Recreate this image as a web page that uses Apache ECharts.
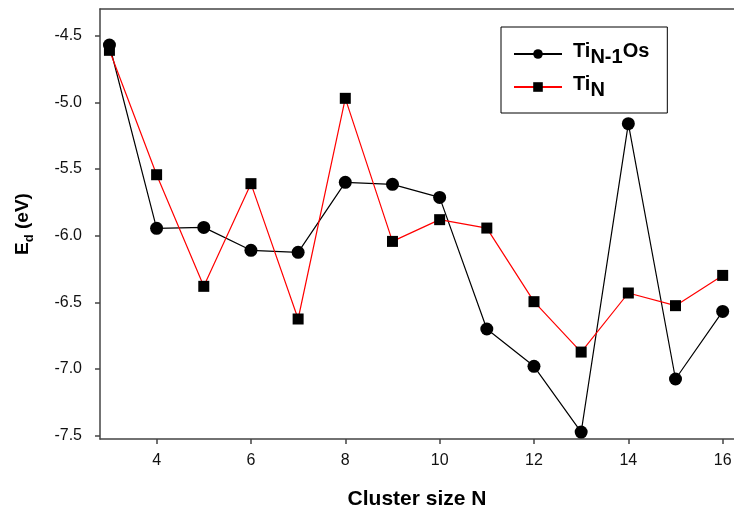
<!doctype html>
<html lang="en">
<head>
  <meta charset="utf-8">
  <title>Ed vs cluster size</title>
  <script src="https://cdn.jsdelivr.net/npm/echarts@6/dist/echarts.min.js"></script>
  <style>
    html, body { margin: 0; padding: 0; background: #fff; }
    #chart { width: 734px; height: 507px; }
  </style>
</head>
<body>
  <div id="chart"></div>
  <script type="text/javascript">
    // cluster size N
    const sizes = [3, 4, 5, 6, 7, 8, 9, 10, 11, 12, 13, 14, 15, 16];
    // Ti(N-1)Os
    const tiOs = [-4.57, -5.945, -5.938, -6.11, -6.125, -5.60, -5.615, -5.713, -6.70, -6.98, -7.473, -5.16, -7.075, -6.568];
    // Ti(N)
    const tiN = [-4.61, -5.543, -6.38, -5.61, -6.625, -4.97, -6.043, -5.88, -5.943, -6.495, -6.873, -6.43, -6.525, -6.298];
    const xTicks = [4, 6, 8, 10, 12, 14, 16];
    const yTicks = [-7.5, -7.0, -6.5, -6.0, -5.5, -5.0, -4.5];

    const font = 'Liberation Sans, Arial, sans-serif';
    const axisColor = '#444';

    const pairs = (ys) => sizes.map((x, i) => [x, ys[i]]);

    let chart = echarts.init(document.getElementById('chart'));
    let option = {
      animation: false,
      grid: { left: 100, right: 0, top: 9, bottom: 68, outerBoundsMode: 'none', containLabel: false },
      legend: {
        orient: 'vertical',
        left: 501,
        top: 27,
        padding: [14, 18, 13, 12],
        itemGap: 7,
        itemWidth: 48,
        itemHeight: 12,
        borderColor: '#000',
        borderWidth: 1,
        data: ['TiN-1Os', 'TiN'],
        formatter: (name) => name === 'TiN' ? '{g|}{b|Ti}{s|N}' : '{g|}{b|Ti}{s|N-1}{b|Os}',
        textStyle: {
          fontFamily: font,
          rich: {
            g: { width: 6 },
            b: { fontSize: 20, fontWeight: 'bold', color: '#000', verticalAlign: 'top', fontFamily: font },
            s: { fontSize: 20, fontWeight: 'bold', color: '#000', verticalAlign: 'bottom', padding: [6, 0, 0, 0], fontFamily: font }
          }
        }
      },
      xAxis: [{
        type: 'value',
        min: 2.8,
        max: 16.24,
        splitLine: { show: false },
        axisLine: { onZero: false, lineStyle: { color: axisColor, width: 1.5 } },
        axisTick: { customValues: xTicks, length: 5, lineStyle: { color: axisColor, width: 1.5 } },
        axisLabel: { customValues: xTicks, color: '#111', fontSize: 16, fontFamily: font, margin: 14 },
        name: 'Cluster size N',
        nameLocation: 'middle',
        nameGap: 50,
        nameTextStyle: { fontSize: 21, fontWeight: 'bold', color: '#000', fontFamily: font }
      }, {
        type: 'value',
        position: 'top',
        min: 2.8,
        max: 16.24,
        splitLine: { show: false },
        axisLine: { show: true, lineStyle: { color: axisColor, width: 1.5 } },
        axisTick: { show: false },
        axisLabel: { show: false }
      }],
      yAxis: {
        type: 'value',
        min: -7.525,
        max: -4.3,
        splitLine: { show: false },
        axisLine: { show: true, onZero: false, lineStyle: { color: axisColor, width: 1.5 } },
        axisTick: { show: true, customValues: yTicks, length: 5, lineStyle: { color: axisColor, width: 1.5 } },
        axisLabel: { customValues: yTicks, color: '#111', fontSize: 16, fontFamily: font, margin: 18,
          formatter: (v) => v.toFixed(1) },
        name: '{b|E}{s|d}{b| (eV)}',
        nameLocation: 'middle',
        nameGap: 64,
        nameTextStyle: {
          rich: {
            b: { fontSize: 19, fontWeight: 'bold', color: '#000', fontFamily: font, verticalAlign: 'top' },
            s: { fontSize: 13, fontWeight: 'bold', color: '#000', fontFamily: font, verticalAlign: 'bottom', padding: [10, 0, 0, 0] }
          }
        }
      },
      series: [{
        name: 'TiN-1Os',
        type: 'line',
        data: pairs(tiOs),
        symbol: 'circle',
        symbolSize: 13,
        lineStyle: { color: '#000', width: 1.2 },
        itemStyle: { color: '#000' }
      }, {
        name: 'TiN',
        type: 'line',
        data: pairs(tiN),
        symbol: 'rect',
        symbolSize: 11,
        lineStyle: { color: '#f00', width: 1.2 },
        itemStyle: { color: '#000' }
      }]
    };
    chart.setOption(option);
  </script>
</body>
</html>
